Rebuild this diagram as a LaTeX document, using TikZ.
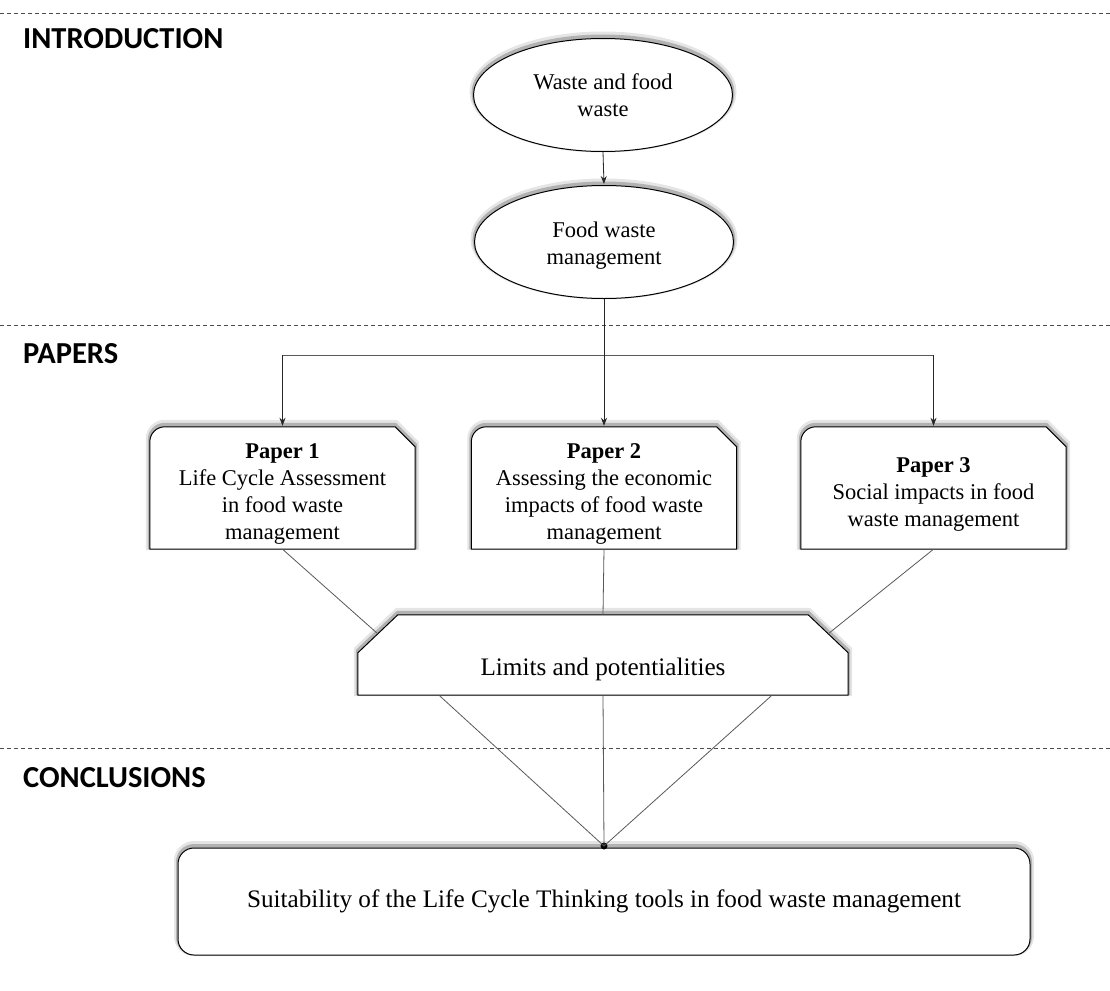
\documentclass[tikz,border=0pt]{standalone}
\usepackage{fontspec}
\setmainfont{Liberation Serif}
\newfontfamily\secfont{Carlito}
\usetikzlibrary{shapes.geometric, backgrounds, arrows.meta}
\begin{document}
\begin{tikzpicture}[x=1pt,y=-1pt,
  sec/.style={font=\secfont\bfseries\fontsize{30.5}{34}\selectfont, anchor=west, inner sep=0pt},
  tfont/.style={font=\fontsize{22.5}{27}\selectfont},
  bigfont/.style={font=\fontsize{25.2}{28}\selectfont},
  txt/.style={tfont, align=center},
  sep/.style={draw=black!70, line width=0.9pt, dash pattern=on 4pt off 3pt},
  shd/.style={preaction={draw=black, fill=none, opacity=0.10, line width=8pt, transform canvas={yshift=3pt}},
              preaction={draw=black, fill=none, opacity=0.22, line width=4pt, transform canvas={yshift=2pt}}},
  ell/.style={txt, ellipse, draw, line width=1pt, fill=white, shd, minimum width=259pt, minimum height=113pt, inner sep=0pt},
  paper/.style={txt, minimum width=265pt, minimum height=122pt, inner sep=0pt},
  outline/.style={draw, line width=1pt, fill=white, shd},
  arr/.style={draw=black!85, line width=0.8pt, -{Stealth[length=8pt,width=6pt]}, shorten >=1pt},
  link/.style={draw=black!65, line width=0.8pt},
]
\useasboundingbox (0,0) rectangle (1110,990);

% section separators
\draw[sep] (0,13) -- (1110,13);
\draw[sep] (0,325) -- (1110,325);
\draw[sep] (0,748) -- (1110,748);

% section labels
\node[sec] (intro) at (23,39) {INTRODUCTION};
\node[sec] (papers) at (23,354) {PAPERS};
\node[sec] (concl) at (23,778) {CONCLUSIONS};

% introduction
\node[ell] (e1) at (603,95) {Waste and food\\waste};
\node[ell] (e2) at (604,242) {\rule{0pt}{23pt}Food waste\\management};
\draw[arr] (e1.south) -- (e2.north);

% papers
\node[paper] (p1) at (282.5,488) {\rule{0pt}{27.5pt}\textbf{Paper 1}\\Life Cycle Assessment\\in food waste\\management};
\node[paper] (p2) at (604,488) {\rule{0pt}{27.5pt}\textbf{Paper 2}\\Assessing the economic\\impacts of food waste\\management};
\node[paper] (p3) at (933.5,488) {\rule{0pt}{27.5pt}\textbf{Paper 3}\\Social impacts in food\\waste management};

\coordinate (jl) at (282.5,355);
\coordinate (jr) at (933.5,355);
\draw[link] (jl) -- (jr);
\draw[arr] (jl) -- (p1.north);
\draw[arr] (jr) -- (p3.north);
\draw[arr] (e2.south) -- (p2.north);

% limits
\node[bigfont, minimum width=490pt, minimum height=80pt, inner sep=0pt, text height=40pt, text depth=0pt] (lim) at (603,655) {Limits and potentialities};

\begin{scope}[on background layer]
\fill[white] (0,0) rectangle (1110,990);
\foreach \p in {p1,p2,p3}
  \draw[outline] (\p.south west) -- ([yshift=-15pt]\p.north west) to[out=90,in=180] ([xshift=15pt]\p.north west) -- ([xshift=-20pt]\p.north east) -- ([yshift=-20pt]\p.north east) -- (\p.south east) -- cycle;
\draw[outline] (lim.south west) -- ([yshift=-38pt]lim.north west) -- ([xshift=40pt]lim.north west) -- ([xshift=-40pt]lim.north east) -- ([yshift=-38pt]lim.north east) -- (lim.south east) -- cycle;
\end{scope}

\coordinate (limL) at ([xshift=20pt,yshift=-19pt]lim.north west);
\coordinate (limR) at ([xshift=-20pt,yshift=-19pt]lim.north east);
\draw[link] (p1.south) -- (limL);
\draw[link] (p2.south) -- (lim.north);
\draw[link] (p3.south) -- (limR);

% conclusions
\node[bigfont, align=center, outline, rounded corners=16pt, minimum width=852pt, minimum height=107pt] (conc) at (604,901.5) {Suitability of the Life Cycle Thinking tools in food waste management};

\coordinate (bl) at ([xshift=-164pt]lim.south);
\coordinate (br) at ([xshift=169pt]lim.south);
\node[circle, fill=black, inner sep=0pt, minimum size=7pt] (dot) at (604,846) {};
\draw[link] (bl) -- (dot.center);
\draw[link] (lim.south) -- (dot.center);
\draw[link] (br) -- (dot.center);
\end{tikzpicture}
\end{document}
